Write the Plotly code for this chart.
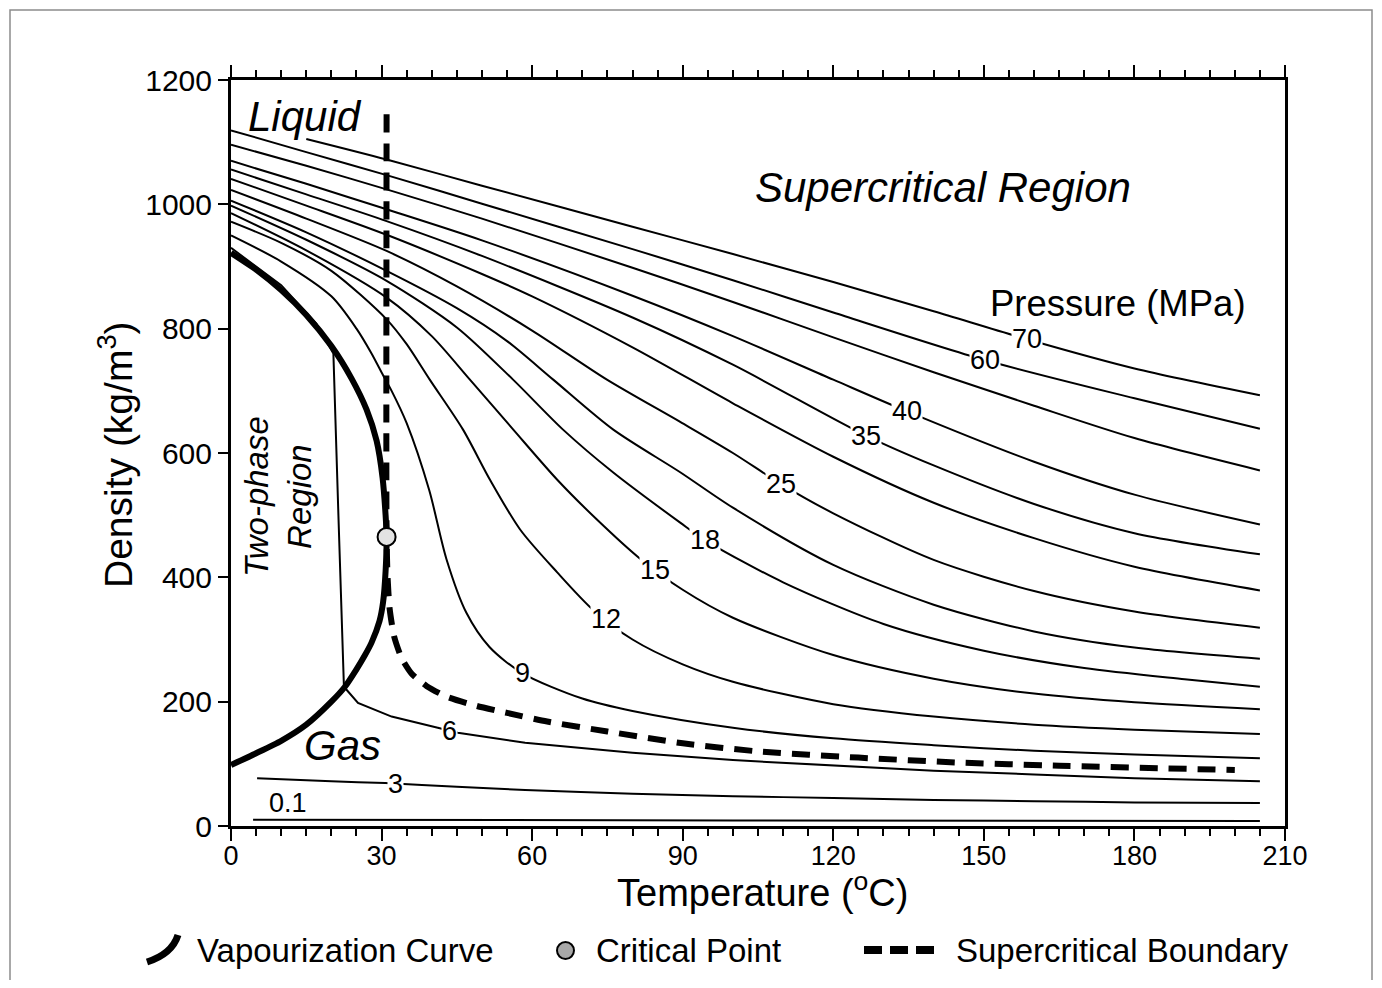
import numpy as np
import plotly.graph_objects as go

# ---------------- data ----------------
pressures = ["70", "60", "50", "40", "35", "30", "25", "20", "18", "15", "12", "9", "6", "3", "0.1"]

T_70 = [15, 31, 50, 80, 100, 120, 140, 158.6, 180, 205]
D_70 = [1105, 1072, 1030, 964, 920, 875, 828, 783, 736, 693]

T_60 = [0, 15, 31, 50, 80, 100, 120, 150, 180, 205]
D_60 = [1119, 1084, 1047, 1001, 928, 878, 826, 750, 688, 639]

T_50 = [0, 15, 31, 50, 80, 100, 120, 140, 160, 180, 205]
D_50 = [1096, 1062, 1024, 977, 898, 843, 786, 730, 676, 624, 572]

T_40 = [0, 15, 31, 50, 80, 100, 120, 134.7, 160, 180, 205]
D_40 = [1070, 1033, 992, 942, 853, 788, 718, 667, 586, 533, 485]

T_35 = [0, 15, 31, 50, 80, 100, 126.5, 140, 160, 180, 205]
D_35 = [1056, 1016, 973, 917, 818, 742, 628, 580, 518, 471, 437]

T_30 = [0, 15, 31, 50, 60, 80, 100, 120, 140, 160, 180, 205]
D_30 = [1041, 998, 951, 888, 852, 770, 680, 594, 520, 463, 417, 379]

T_25 = [0, 15, 31, 45, 60, 74.9, 89.5, 100, 109.6, 120, 140, 160, 180, 205]
D_25 = [1023, 977, 925, 868, 797, 718, 650, 600, 550, 503, 428, 378, 345, 319]

T_20 = [0, 15, 31, 45, 55, 64.2, 76.1, 89.5, 100, 120, 140, 160, 180, 205]
D_20 = [1006, 955, 893, 833, 780, 718, 638, 569, 512, 420, 356, 313, 287, 269]

T_18 = [0, 15, 31, 45, 56.2, 66.1, 76.1, 89.5, 94.4, 110, 130, 150, 170, 190, 205]
D_18 = [998, 943, 877, 802, 718, 638, 569, 488, 460, 392, 325, 282, 254, 236, 224]

T_15 = [0, 15, 31, 40, 47.6, 56.2, 65, 72.9, 81.5, 90, 100, 120, 140, 160, 180, 205]
D_15 = [986, 926, 850, 788, 718, 638, 557, 493, 430, 380, 335, 275, 237, 213, 199, 188]

T_12 = [0, 10, 20, 31, 35, 39.6, 46.2, 51.6, 57.6, 65, 72.1, 80, 90, 100, 120, 140, 160, 180, 205]
D_12 = [972, 938, 893, 815, 775, 718, 638, 557, 477, 408, 348, 300, 260, 232, 196, 176, 163, 155, 148]

T_9 = [0, 10, 20, 25, 28, 30.3, 32, 35, 39.5, 42.9, 46.9, 51.5, 58, 70, 80, 100, 120, 140, 160, 180, 205]
D_9 = [950, 908, 852, 800, 760, 725, 700, 648, 540, 430, 343, 288, 246, 205, 185, 158, 141, 130, 121, 115, 109]

T_6 = [0, 10, 17, 20.4, 21.4, 22.5, 25.3, 32, 41.2, 45.2, 58.6, 80, 100, 120, 140, 160, 180, 205]
D_6 = [930, 870, 808, 760, 500, 224, 198, 176, 158, 150, 134, 118, 106, 97, 89, 83, 77, 72]

T_3 = [5.2, 20, 30.7, 45, 58.6, 80, 100, 120, 140, 160, 180, 205]
D_3 = [77, 72, 69, 63, 58, 52, 48, 45, 42, 40, 38, 37]

T_01 = [4.4, 100, 205]
D_01 = [10, 9, 8]

# vapourization curve (liquid branch up to the critical point, then gas branch)
T_vap = [0, 5, 10, 15, 20, 24, 27, 29, 30.2, 30.8, 31,
         30.8, 30.3, 29.6, 28, 26.7, 25, 22.7, 20, 15, 10, 5, 0]
D_vap = [922, 895, 862, 822, 772, 720, 670, 620, 560, 500, 465,
         410, 360, 330, 295, 275, 252, 224, 200, 163, 137, 117, 98]

# supercritical boundary
T_scb = [31, 31, 31.2, 31.6, 32.5, 34, 36, 39, 43, 49, 55, 63, 75, 90, 105, 125, 145, 165, 185, 200]
D_scb = [1145, 465, 400, 350, 305, 270, 245, 225, 208, 193, 182, 168, 152, 133, 120, 110, 102, 97, 93, 90]

# critical point
T_cp = [31]
D_cp = [465]

# label positions along the isobars (temperature at which label sits)
label_T = {"70": 158.6, "60": 150.2, "40": 134.7, "35": 126.5, "25": 109.6,
           "18": 94.4, "15": 84.5, "12": 74.7, "9": 58, "6": 43.6, "3": 32.7}

x_ticks = [0, 30, 60, 90, 120, 150, 180, 210]
y_ticks = [0, 200, 400, 600, 800, 1000, 1200]

isobars = {
    "70": (T_70, D_70), "60": (T_60, D_60), "50": (T_50, D_50), "40": (T_40, D_40),
    "35": (T_35, D_35), "30": (T_30, D_30), "25": (T_25, D_25), "20": (T_20, D_20),
    "18": (T_18, D_18), "15": (T_15, D_15), "12": (T_12, D_12), "9": (T_9, D_9),
    "6": (T_6, D_6), "3": (T_3, D_3), "0.1": (T_01, D_01),
}

# ---------------- figure ----------------
# page is offset by the 8px body margin, so the figure is 16px smaller
W, H = 1366, 972
L, TOP = 223, 72
PW, PH = 1054, 746
R, B = W - L - PW, H - TOP - PH

# helpers: page pixel -> paper coordinates (plot area spans page x 231..1285, y 80..826)
def px(x):
    return (x - 231) / PW

def py(y):
    return (826 - y) / PH

FONT = "Liberation Sans, Arial, sans-serif"

fig = go.Figure()

for p in pressures:
    tt, dd = isobars[p]
    shape = "linear" if p == "6" else "spline"
    fig.add_trace(go.Scatter(x=tt, y=dd, mode="lines",
                             line=dict(color="black", width=2, shape=shape, smoothing=0.8),
                             hoverinfo="skip", showlegend=False))

fig.add_trace(go.Scatter(x=T_vap, y=D_vap, mode="lines",
                         line=dict(color="black", width=6, shape="spline", smoothing=0.6),
                         showlegend=False))
fig.add_trace(go.Scatter(x=T_scb, y=D_scb, mode="lines",
                         line=dict(color="black", width=6, dash="18px,11px", shape="spline", smoothing=0.6),
                         showlegend=False))
fig.add_trace(go.Scatter(x=T_cp, y=D_cp, mode="markers",
                         marker=dict(size=18, color="#e3e3e3", line=dict(color="black", width=2)),
                         showlegend=False))

annotations = []
for p, tl in label_T.items():
    tt, dd = isobars[p]
    yl = float(np.interp(tl, tt, dd))
    annotations.append(dict(x=tl, y=yl, xref="x", yref="y", text=p, showarrow=False,
                            xanchor="center", yanchor="middle",
                            font=dict(family=FONT, size=27, color="black"),
                            bgcolor="white", borderpad=0))
annotations.append(dict(x=11.4, y=37, xref="x", yref="y", text="0.1", showarrow=False,
                        xanchor="center", yanchor="middle",
                        font=dict(family=FONT, size=27, color="black")))

def ptext(x, y, text, size, angle=0, anchor="center"):
    return dict(x=px(x), y=py(y), xref="paper", yref="paper", text=text, showarrow=False,
                xanchor=anchor, yanchor="middle", textangle=angle,
                font=dict(family=FONT, size=size, color="black"))

annotations += [
    ptext(305, 116, "<i>Liquid</i>", 42),
    ptext(943, 187, "<i>Supercritical Region</i>", 42),
    ptext(342, 745, "<i>Gas</i>", 42),
    ptext(1118, 303, "Pressure (MPa)", 36.5),
    ptext(278, 497, "<i>Two-phase<br>Region</i>", 33, angle=-90),
    ptext(762, 890, "Temperature (<sup>o</sup>C)", 38),
    ptext(115, 455, "Density (kg/m<sup>3</sup>)", 39, angle=-90),
    # legend texts
    ptext(195, 950, "Vapourization Curve", 33, anchor="left"),
    ptext(594, 950, "Critical Point", 33, anchor="left"),
    ptext(954, 950, "Supercritical Boundary", 33, anchor="left"),
]

shapes = [
    # outer frame of the picture
    dict(type="rect", xref="paper", yref="paper", x0=px(10), x1=px(1372), y0=py(1000), y1=py(10),
         line=dict(color="#8c8c8c", width=1.5), layer="below"),
    # legend icons
    dict(type="path", xref="paper", yref="paper",
         path=f"M {px(147)},{py(962)} Q {px(172)},{py(954)} {px(178)},{py(935)}",
         line=dict(color="black", width=7)),
    dict(type="circle", xref="paper", yref="paper", x0=px(557), x1=px(574), y0=py(959), y1=py(942),
         fillcolor="#a8a8a8", line=dict(color="black", width=2)),
    dict(type="line", xref="paper", yref="paper", x0=px(864), x1=px(936), y0=py(950), y1=py(950),
         line=dict(color="black", width=8, dash="18px,8px")),
]

fig.update_layout(
    width=W, height=H,
    margin=dict(l=L, r=R, t=TOP, b=B),
    paper_bgcolor="white", plot_bgcolor="white",
    showlegend=False,
    annotations=annotations, shapes=shapes,
    xaxis=dict(range=[0, 210], tickvals=x_ticks, ticks="outside", ticklen=12, tickwidth=2,
               tickcolor="black", showline=True, linecolor="black", linewidth=3, mirror="ticks",
               showgrid=False, zeroline=False, ticklabelstandoff=-8,
               tickfont=dict(family=FONT, size=27, color="black"),
               minor=dict(dtick=5, ticks="outside", ticklen=7, tickwidth=2, tickcolor="black", showgrid=False)),
    yaxis=dict(range=[0, 1200], tickvals=y_ticks, ticks="outside", ticklen=10, tickwidth=2,
               tickcolor="black", showline=True, linecolor="black", linewidth=3, mirror=True,
               showgrid=False, zeroline=False,
               tickfont=dict(family=FONT, size=30, color="black")),
)

fig.write_html("out.html")
